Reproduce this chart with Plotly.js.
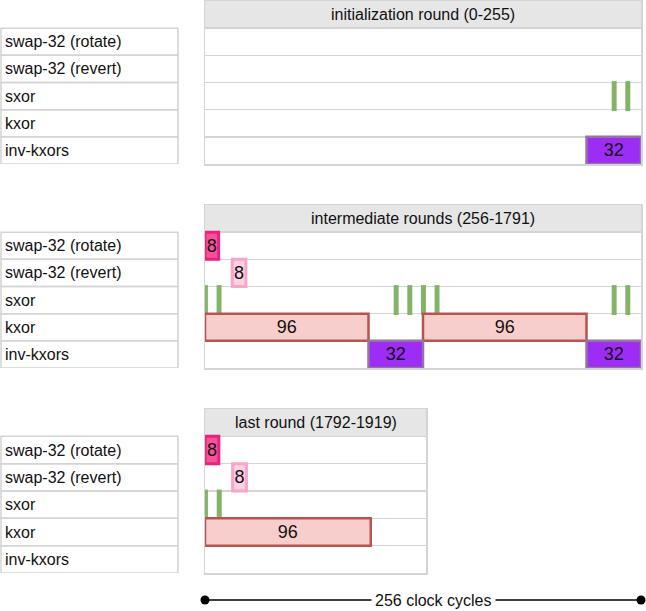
<!DOCTYPE html>
<html><head><meta charset="utf-8">
<script src="https://cdn.plot.ly/plotly-3.0.1.min.js"></script>
<style>html,body{margin:0;padding:0;background:#fff}</style>
</head><body><div id="chart" style="width:646px;height:611px"></div>
<script>
// ---------------- data ----------------
const rows = ['swap-32 (rotate)', 'swap-32 (revert)', 'sxor', 'kxor', 'inv-kxors'];
const panelTitles = ['initialization round (0-255)', 'intermediate rounds (256-1791)', 'last round (1792-1919)'];
const panelCycles = [256, 256, 128];
const swapLen = 8, kxorLen = 96, invLen = 32;
// start cycles of each operation, per panel (init, intermediate, last)
const rotateStarts = [[], [0], [0]];
const revertStarts = [[], [16], [16]];
const sxorStarts   = [[240, 248], [0, 8, 112, 120, 128, 136, 240, 248], [0, 8]];
const kxorStarts   = [[], [0, 128], [0]];
const invStarts    = [[224], [96, 224], []];
const clockLabel = '256 clock cycles';
const clockSpan = [0, 256];

// ---------------- layout helpers ----------------
const W = 646, H = 611;
const px = v => v / W;
const py = v => 1 - v / H;
const panelTop = [1, 205, 409];
const panelBottom = [164, 368, 573];
const panelLeft = 205;
const panelRight = [641, 641, 426];
const FONT = 'Liberation Sans, Arial, Helvetica, sans-serif';
const GRID = '#d4d4d4';
const TXT = '#111';

const styles = {
  rotate: {fill: '#f9519b', line: '#e8237f', lw: 3},
  revert: {fill: '#fdd0e3', line: '#f8a5c9', lw: 3},
  sxor:   {fill: '#82b366', line: '#82b366', lw: 0},
  kxor:   {fill: '#f8cecc', line: '#b85450', lw: 2.5},
  inv:    {fill: '#9d2cf5', line: '#9673a6', lw: 2.5}
};

const traces = [];
const shapes = [];
const annotations = [];
const layout = {
  width: W, height: H,
  margin: {l: 0, r: 0, t: 0, b: 0},
  paper_bgcolor: '#fff', plot_bgcolor: '#fff',
  barmode: 'overlay',
  showlegend: false,
  font: {family: FONT, color: TXT},
  hovermode: false
};

function addBars(p, starts, len, rowIdx, st, showText, isTick) {
  if (!starts.length) return;
  const sfx = p === 0 ? '' : String(p + 1);
  traces.push({
    type: 'bar', orientation: 'h',
    xaxis: 'x' + sfx, yaxis: 'y' + sfx,
    y: starts.map(() => rowIdx),
    base: starts.map(s => isTick ? s - 1.2 : s),
    x: starts.map(() => isTick ? 2.9 : len),
    width: isTick ? 1.1 : 1,
    marker: {color: st.fill, line: {color: st.line, width: st.lw}},
    text: showText ? starts.map(() => String(len)) : undefined,
    textposition: showText ? 'inside' : 'none',
    insidetextanchor: 'middle',
    constraintext: 'none',
    textfont: {size: 18, color: TXT, family: FONT},
    cliponaxis: false
  });
}

for (let p = 0; p < 3; p++) {
  const sfx = p === 0 ? '' : String(p + 1);
  const xa = 'xaxis' + sfx, ya = 'yaxis' + sfx;
  layout[xa] = {
    domain: [px(panelLeft), px(panelRight[p])],
    range: [0, panelCycles[p]],
    anchor: 'y' + sfx,
    showline: true, mirror: true, linecolor: GRID, linewidth: 1.5,
    showgrid: false, zeroline: false, showticklabels: false, ticks: '', fixedrange: true
  };
  layout[ya] = {
    domain: [py(panelBottom[p]), py(panelTop[p])],
    range: [rows.length - 0.5, -1.5],
    anchor: 'x' + sfx,
    showline: true, mirror: true, linecolor: GRID, linewidth: 1.5,
    tickvals: rows.map((r, i) => i - 0.5),
    showgrid: true, gridcolor: GRID, gridwidth: 1.5,
    zeroline: false, showticklabels: false, ticks: '', fixedrange: true
  };
  // header background
  shapes.push({type: 'rect', layer: 'below', xref: 'x' + sfx + ' domain', yref: 'y' + sfx,
    x0: 0, x1: 1, y0: -1.5, y1: -0.5, fillcolor: '#e6e6e6', line: {width: 0}});
  annotations.push({xref: 'x' + sfx + ' domain', yref: 'y' + sfx, x: 0.5, y: -1,
    text: panelTitles[p], showarrow: false, font: {size: 16, family: FONT, color: TXT}});
  // label boxes
  rows.forEach((r, i) => {
    shapes.push({type: 'rect', xref: 'paper', yref: 'y' + sfx,
      x0: px(1), x1: px(178), y0: i - 0.5, y1: i + 0.5,
      fillcolor: 'rgba(0,0,0,0)', line: {color: GRID, width: 1.5}});
    annotations.push({xref: 'paper', yref: 'y' + sfx, x: px(3), y: i, xanchor: 'left',
      text: r, showarrow: false, font: {size: 16, family: FONT, color: TXT}});
  });
  addBars(p, sxorStarts[p], 1, 2, styles.sxor, false, true);
  addBars(p, kxorStarts[p], kxorLen, 3, styles.kxor, true, false);
  addBars(p, invStarts[p], invLen, 4, styles.inv, true, false);
  addBars(p, rotateStarts[p], swapLen, 0, styles.rotate, true, false);
  addBars(p, revertStarts[p], swapLen, 1, styles.revert, true, false);
}

// clock-cycle scale bar on its own thin y axis, sharing the first panel's x scale
layout.yaxis4 = {domain: [py(610), py(590)], range: [-1, 1], anchor: 'x',
  visible: false, fixedrange: true};
traces.push({type: 'scatter', mode: 'lines+markers', xaxis: 'x', yaxis: 'y4',
  x: clockSpan, y: clockSpan.map(() => 0),
  line: {color: '#000', width: 1.5},
  marker: {color: '#000', size: 9},
  cliponaxis: false});
annotations.push({xref: 'x', yref: 'y4', x: (clockSpan[0] + clockSpan[1]) / 2 + 6, y: 0,
  xanchor: 'center', yanchor: 'middle',
  text: clockLabel, showarrow: false, bgcolor: '#fff', borderpad: 3,
  font: {size: 16, family: FONT, color: TXT}});

layout.shapes = shapes;
layout.annotations = annotations;
Plotly.newPlot('chart', traces, layout, {staticPlot: true, displayModeBar: false});
</script>
</body></html>
